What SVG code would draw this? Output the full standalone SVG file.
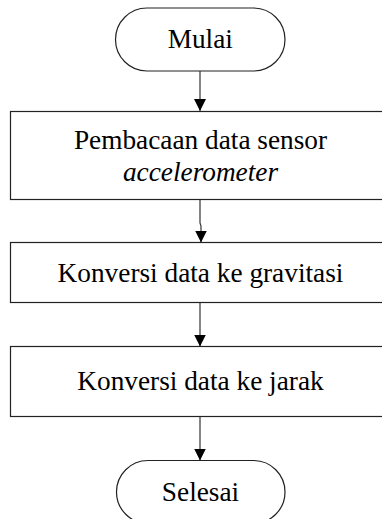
<svg xmlns="http://www.w3.org/2000/svg" width="382" height="519" viewBox="0 0 382 519">
  <style>
    .shape { fill: #ffffff; stroke: #222222; stroke-width: 1.2; }
    .label { font-family: "Liberation Serif", "Times New Roman", serif; font-size: 27.3px; fill: #000000; text-anchor: middle; }
    .italic { font-style: italic; }
    .edge { fill: none; stroke: #333333; stroke-width: 1.2; }
  </style>
  <defs>
    <marker id="arrow" viewBox="0 0 12 12" refX="12" refY="6" markerWidth="12" markerHeight="12" markerUnits="userSpaceOnUse" orient="auto">
      <path d="M0,0 L12,6 L0,12 Z" fill="#000000"/>
    </marker>
  </defs>
  <rect width="382" height="519" fill="#ffffff"/>

  <g id="connectors">
    <path class="edge" d="M200,71 L200,111" marker-end="url(#arrow)"/>
    <path class="edge" d="M200,199.5 L200,223 L201,226 L201,242.5" marker-end="url(#arrow)"/>
    <path class="edge" d="M200,302.5 L200,346.5" marker-end="url(#arrow)"/>
    <path class="edge" d="M200,416.5 L200,460.5" marker-end="url(#arrow)"/>
  </g>

  <g id="start">
    <rect class="shape" x="115.5" y="8" width="169.5" height="63" rx="31.5" ry="31.5"/>
    <text class="label" x="200.3" y="48">Mulai</text>
  </g>

  <g id="read-sensor">
    <rect class="shape" x="10.5" y="111.5" width="380" height="88"/>
    <text class="label" x="200.5" y="149">Pembacaan data sensor</text>
    <text class="label italic" x="200.5" y="181">accelerometer</text>
  </g>

  <g id="to-gravity">
    <rect class="shape" x="10.5" y="242.5" width="380" height="60"/>
    <text class="label" x="200.5" y="282">Konversi data ke gravitasi</text>
  </g>

  <g id="to-distance">
    <rect class="shape" x="10.5" y="346.5" width="380" height="70"/>
    <text class="label" x="200.5" y="390">Konversi data ke jarak</text>
  </g>

  <g id="end">
    <rect class="shape" x="116.5" y="460.5" width="168.5" height="63" rx="31.5" ry="31.5"/>
    <text class="label" x="200.5" y="501">Selesai</text>
  </g>
</svg>
